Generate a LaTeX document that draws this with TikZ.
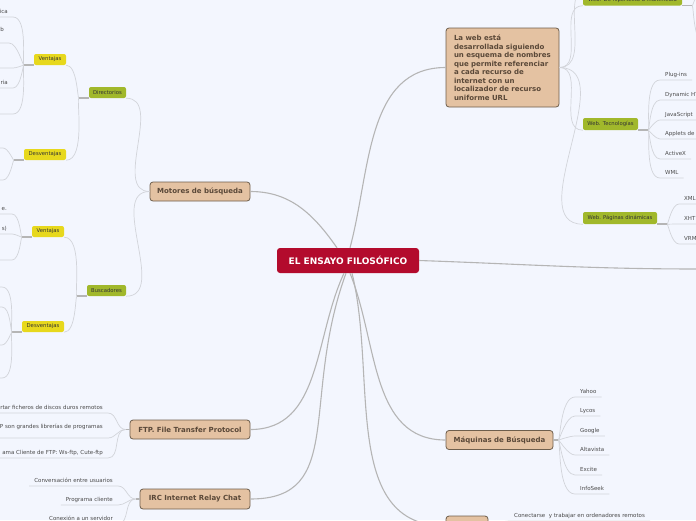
\documentclass[tikz,border=0pt]{standalone}
\usepackage{fontspec}
\setmainfont{DejaVu Sans}
\usepackage{tikz}
\usetikzlibrary{positioning}

\definecolor{bgblue}{HTML}{F3F6FE}
\definecolor{rootred}{HTML}{B30B2D}
\definecolor{topicfill}{HTML}{E4C2A2}
\definecolor{topicline}{HTML}{6E5E4C}
\definecolor{topictext}{HTML}{5A4838}
\definecolor{branchgreen}{HTML}{A1B82B}
\definecolor{subyellow}{HTML}{E7D81D}
\definecolor{linkgray}{HTML}{B5B5B5}
\definecolor{leafgray}{HTML}{D2D4DA}
\definecolor{leaftext}{HTML}{4A4A4A}

\begin{document}
\begin{tikzpicture}[
    x=1pt, y=1pt,
    rootbox/.style={fill=rootred, text=white, rounded corners=3pt, minimum width=142pt, minimum height=25pt, font=\bfseries\fontsize{9}{10}\selectfont},
    topicbox/.style={draw=topicline, line width=0.8pt, fill=topicfill, text=topictext, rounded corners=3pt, minimum height=19pt, font=\bfseries\fontsize{7}{8.5}\selectfont},
    branchbox/.style={fill=branchgreen, text=black!80, rounded corners=2pt, minimum height=11pt, inner xsep=4pt, inner ysep=0pt, font=\fontsize{5.3}{6}\selectfont},
    subbox/.style={branchbox, fill=subyellow},
    leaf/.style={text=leaftext, inner xsep=5pt, inner ysep=2.5pt, text height=4pt, text depth=1.3pt, font=\fontsize{5.5}{6.5}\selectfont},
    lleaf/.style={leaf, anchor=south east},
    rleaf/.style={leaf, anchor=south west},
    mainlink/.style={draw=linkgray, line width=1.1pt},
    sublink/.style={draw=leafgray, line width=0.7pt},
    stub/.style={draw=linkgray, line width=1.5pt},
    tol/.style={out=180, in=0, out looseness=0.1, in looseness=0.8},
    tor/.style={out=0, in=180, out looseness=0.1, in looseness=0.8}
]
\useasboundingbox (0,0) rectangle (696,-520);
\fill[bgblue] (0,0) rectangle (696,-520);
\clip (0,0) rectangle (696,-520);

% root and main topics
\node[rootbox] (root) at (348,-260.5) {EL ENSAYO FILOSÓFICO};
\node[topicbox, minimum width=100pt] (motores) at (200,-191.5) {Motores de búsqueda};
\node[topicbox, minimum width=113pt, minimum height=79pt, text width=97pt, inner xsep=8pt, align=left] (laweb) at (502.5,-67.5)
    {La web está\\desarrollada siguiendo\\un esquema de nombres\\que permite referenciar\\a cada recurso de\\internet con un\\localizador de recurso\\uniforme URL};
\node[topicbox, minimum width=120pt] (ftp) at (190,-429.5) {FTP. File Transfer Protocol};
\node[topicbox, minimum width=110pt, minimum height=20pt] (irc) at (195,-499) {IRC Internet Relay Chat};
\node[topicbox, minimum width=107pt] (maquinas) at (499.5,-440) {Máquinas de Búsqueda};
\node[topicbox, minimum width=42pt, minimum height=20pt] (remote) at (467,-526) {};

% green branches
\node[branchbox, minimum width=37pt] (dir) at (107.5,-92.5) {Directorios};
\node[branchbox, minimum width=39pt] (busc) at (106.5,-290.5) {Buscadores};
\node[branchbox, minimum width=99pt] (hiper) at (632.5,0) {Web. De hipertexto a multimedia};
\node[branchbox, minimum width=55pt, minimum height=12pt] (tecno) at (610.5,-124) {Web. Tecnologías};
\node[branchbox, minimum width=74pt, minimum height=12pt] (dinam) at (620,-218) {Web. Páginas dinámicas};

% yellow sub-branches
\node[subbox, minimum width=32pt] (ven1) at (50,-59.5) {Ventajas};
\node[subbox, minimum width=42pt] (des1) at (45,-154.5) {Desventajas};
\node[subbox, minimum width=32pt] (ven2) at (48,-231.5) {Ventajas};
\node[subbox, minimum width=42pt] (des2) at (43,-326.5) {Desventajas};

% leaves, left
\node[lleaf] (a1) at (13,-17) {ica};
\node[lleaf, text depth=9pt] (a2) at (9,-43) {b};
\node[lleaf, minimum width=20pt] (a3) at (13,-68) {};
\node[lleaf] (a4) at (13,-88) {ria};
\node[lleaf, minimum width=20pt] (a5) at (13,-114) {};
\node[lleaf, minimum width=20pt] (b1) at (3,-148) {};
\node[lleaf, minimum width=20pt] (b2) at (3,-180) {};
\node[lleaf] (c1) at (12,-214) {e.};
\node[lleaf] (c2) at (12,-234) {s)};
\node[lleaf, minimum width=20pt] (c3) at (12,-260) {};
\node[lleaf, minimum width=20pt] (d1) at (2,-287) {};
\node[lleaf, minimum width=20pt] (d2) at (2,-307) {};
\node[lleaf, minimum width=20pt] (d3) at (2,-345) {};
\node[lleaf, minimum width=20pt] (d4) at (2,-378) {};
\node[lleaf] (f1) at (108,-413) {rtar ficheros de discos duros remotos};
\node[lleaf, text depth=7pt] (f2) at (108,-438) {P son grandes librerías de programas};
\node[lleaf] (f3) at (108,-458) {ama Cliente de FTP: Ws-ftp, Cute-ftp};
\node[lleaf] (i1) at (118,-486) {Conversación entre usuarios};
\node[lleaf] (i2) at (118,-505) {Programa cliente};
\node[lleaf] (i3) at (118,-524) {Conexión a un servidor};

% leaves, right
\node[rleaf] (t1) at (660,-80) {Plug-ins};
\node[rleaf] (t2) at (660,-100) {Dynamic HT};
\node[rleaf] (t3) at (660,-120) {JavaScript};
\node[rleaf] (t4) at (660,-139) {Applets de};
\node[rleaf] (t5) at (660,-159) {ActiveX};
\node[rleaf] (t6) at (660,-178) {WML};
\node[rleaf] (p1) at (679,-204) {XML};
\node[rleaf] (p2) at (679,-224) {XHT};
\node[rleaf] (p3) at (679,-244) {VRM};
\node[rleaf] (m1) at (575,-397) {Yahoo};
\node[rleaf] (m2) at (575,-416) {Lycos};
\node[rleaf] (m3) at (575,-436) {Google};
\node[rleaf] (m4) at (575,-455) {Altavista};
\node[rleaf] (m5) at (575,-475) {Excite};
\node[rleaf] (m6) at (575,-494) {InfoSeek};
\node[rleaf] (r1) at (509,-521) {Conectarse~ y trabajar en ordenadores remotos};

% ends beyond the frame
\coordinate (eastend) at (700,-269);
\coordinate (webup) at (590,14);
\coordinate (hiperup) at (706,15);
\coordinate (hiperdown) at (706,-45);

% root links
\draw[mainlink] ([xshift=-11pt]root.north) to[out=125, in=0] (motores.east);
\draw[mainlink] ([xshift=2pt]root.north) to[out=75, in=180] (laweb.west);
\draw[mainlink] (root.east) to[out=-2, in=180] (eastend);
\draw[mainlink] ([xshift=-4pt]root.south) to[out=245, in=0] (ftp.east);
\draw[mainlink] ([xshift=-2pt]root.south) to[out=250, in=0, out looseness=1.4] (irc.east);
\draw[mainlink] ([xshift=2pt]root.south) to[out=292, in=180] (maquinas.west);
\draw[mainlink] ([xshift=4pt]root.south) to[out=284, in=180] (remote.west);

% Motores de busqueda
\draw[sublink] (motores.west) to[out=180, in=0] (dir.south east);
\draw[sublink] (motores.west) to[out=180, in=0] (busc.south east);
\draw[stub] (dir.south west) -- ++(-10,0) coordinate (dirs);
\draw[sublink] (dirs) to[tol] (ven1.south east) (dirs) to[tol] (des1.south east);
\draw[stub] (busc.south west) -- ++(-10,0) coordinate (buscs);
\draw[sublink] (buscs) to[tol] (ven2.south east) (buscs) to[tol] (des2.south east);
\draw[stub] (ven1.south west) -- ++(-10,0) coordinate (ven1s);
\draw[stub] (des1.south west) -- ++(-10,0) coordinate (des1s);
\draw[stub] (ven2.south west) -- ++(-10,0) coordinate (ven2s);
\draw[stub] (des2.south west) -- ++(-10,0) coordinate (des2s);
\foreach \n in {a1,a2,a3,a4,a5}
    \draw[sublink] (ven1s) to[tol] (\n.south east) -- (\n.south west);
\foreach \n in {b1,b2}
    \draw[sublink] (des1s) to[tol] (\n.south east) -- (\n.south west);
\foreach \n in {c1,c2,c3}
    \draw[sublink] (ven2s) to[tol] (\n.south east) -- (\n.south west);
\foreach \n in {d1,d2,d3,d4}
    \draw[sublink] (des2s) to[tol] (\n.south east) -- (\n.south west);

% FTP and IRC
\draw[stub] (ftp.west) -- ++(-4,0) coordinate (ftps);
\draw[stub] (irc.west) -- ++(-4,0) coordinate (ircs);
\foreach \n in {f1,f2,f3}
    \draw[sublink] (ftps) to[out=180, in=0] (\n.south east) -- (\n.south west);
\foreach \n in {i1,i2,i3}
    \draw[sublink] (ircs) to[out=180, in=0] (\n.south east) -- (\n.south west);

% La web
\draw[sublink] (laweb.east) to[out=0, in=180] (webup);
\draw[sublink] (laweb.east) to[out=0, in=180] (hiper.south west);
\draw[sublink] (laweb.east) to[out=0, in=180] (tecno.south west);
\draw[sublink] (laweb.east) to[out=0, in=180] (dinam.south west);
\draw[stub] (hiper.south east) -- ++(10,0) coordinate (hipers);
\draw[sublink] (hipers) to[tor] (hiperup) (hipers) to[tor] (hiperdown);
\draw[stub] (tecno.south east) -- ++(10,0) coordinate (tecnos);
\draw[stub] (dinam.south east) -- ++(10,0) coordinate (dinams);
\foreach \n in {t1,t2,t3,t4,t5,t6}
    \draw[sublink] (tecnos) to[tor] (\n.south west) -- (\n.south east);
\foreach \n in {p1,p2,p3}
    \draw[sublink] (dinams) to[tor] (\n.south west) -- (\n.south east);

% Maquinas and remote
\draw[stub] (maquinas.east) -- ++(5,0) coordinate (maqs);
\foreach \n in {m1,m2,m3,m4,m5,m6}
    \draw[sublink] (maqs) to[tor] (\n.south west) -- (\n.south east);
\draw[sublink] (remote.east) to[out=0, in=180] (r1.south west) -- (r1.south east);
\end{tikzpicture}
\end{document}
